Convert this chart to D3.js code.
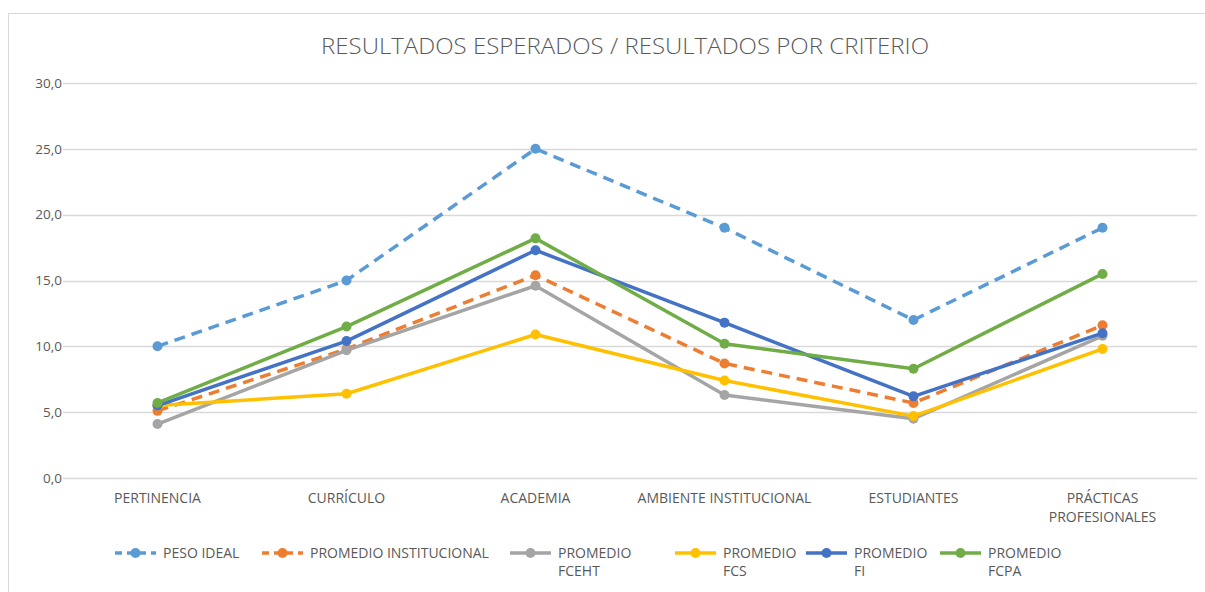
<!DOCTYPE html>
<html>
<head>
<meta charset="utf-8">
<script src="https://cdn.jsdelivr.net/npm/d3@7"></script>
<style>
  body { margin: 0; background: #fff; }
  text { font-family: "Open Sans", "DejaVu Sans", sans-serif; fill: #595959; }
</style>
</head>
<body>
<svg id="svg"></svg>
<script>
const width = 1205;
const height = 592;

const categories = ["PERTINENCIA", "CURRÍCULO", "ACADEMIA", "AMBIENTE INSTITUCIONAL", "ESTUDIANTES", "PRÁCTICAS PROFESIONALES"];
const yTicks = [0, 5, 10, 15, 20, 25, 30];

const pesoIdeal = [10, 15, 25, 19, 12, 19];
const promInstitucional = [5.1, 9.8, 15.4, 8.7, 5.7, 11.6];
const promFCEHT = [4.1, 9.7, 14.6, 6.3, 4.5, 10.8];
const promFCS = [5.5, 6.4, 10.9, 7.4, 4.7, 9.8];
const promFI = [5.5, 10.4, 17.3, 11.8, 6.2, 11.0];
const promFCPA = [5.7, 11.5, 18.2, 10.2, 8.3, 15.5];

const series = [
    { name: ["PESO IDEAL"], values: pesoIdeal, color: "#5B9BD5", dashed: true },
    { name: ["PROMEDIO INSTITUCIONAL"], values: promInstitucional, color: "#ED7D31", dashed: true },
    { name: ["PROMEDIO", "FCEHT"], values: promFCEHT, color: "#A5A5A5", dashed: false },
    { name: ["PROMEDIO", "FCS"], values: promFCS, color: "#FFC000", dashed: false },
    { name: ["PROMEDIO", "FI"], values: promFI, color: "#4472C4", dashed: false },
    { name: ["PROMEDIO", "FCPA"], values: promFCPA, color: "#70AD47", dashed: false }
];

const margin = { top: 83, right: 8, bottom: 114, left: 63 };

let svg = d3.select("#svg")
    .attr("width", width)
    .attr("height", height);

// chart frame
svg.append("rect")
    .attr("x", 8.5).attr("y", 13.5)
    .attr("width", width + 10).attr("height", height + 10)
    .attr("fill", "#fff")
    .attr("stroke", "#D9D9D9");

let xScale = d3.scaleBand()
    .domain(categories)
    .range([margin.left, width - margin.right]);

let yScale = d3.scaleLinear()
    .domain([0, 30])
    .range([height - margin.bottom, margin.top]);

// gridlines + y labels
svg.append("g")
    .selectAll("line")
    .data(yTicks)
    .enter()
    .append("line")
        .attr("x1", margin.left)
        .attr("x2", width - margin.right)
        .attr("y1", d => Math.round(yScale(d)) + 0.5)
        .attr("y2", d => Math.round(yScale(d)) + 0.5)
        .attr("stroke", "#D9D9D9")
        .attr("stroke-width", 1.3);

svg.append("g")
    .selectAll("text")
    .data(yTicks)
    .enter()
    .append("text")
        .attr("x", 62)
        .attr("y", d => yScale(d))
        .attr("dy", "0.35em")
        .attr("text-anchor", "end")
        .attr("font-size", "13.5px")
        .text(d => d3.format(".1f")(d).replace(".", ","));

// category labels
const catLines = { "PRÁCTICAS PROFESIONALES": ["PRÁCTICAS", "PROFESIONALES"] };
svg.append("g")
    .selectAll("text")
    .data(categories)
    .enter()
    .append("text")
        .attr("x", d => xScale(d) + xScale.bandwidth() / 2)
        .attr("y", 503)
        .attr("text-anchor", "middle")
        .attr("font-size", "14px")
        .each(function (d) {
            const lines = catLines[d] || [d];
            d3.select(this).selectAll("tspan")
                .data(lines)
                .enter()
                .append("tspan")
                    .attr("x", xScale(d) + xScale.bandwidth() / 2)
                    .attr("dy", (l, i) => i === 0 ? 0 : 19)
                    .text(l => l);
        });

const line = d3.line()
    .x((d, i) => xScale(categories[i]) + xScale.bandwidth() / 2)
    .y(d => yScale(d));

series.forEach(s => {
    const g = svg.append("g");
    g.append("path")
        .datum(s.values)
        .attr("fill", "none")
        .attr("stroke", s.color)
        .attr("stroke-width", 3.5)
        .attr("stroke-linejoin", "round")
        .attr("stroke-dasharray", s.dashed ? "11,7" : null)
        .attr("d", line);
    g.selectAll("circle")
        .data(s.values)
        .enter()
        .append("circle")
            .attr("cx", (d, i) => xScale(categories[i]) + xScale.bandwidth() / 2)
            .attr("cy", d => yScale(d))
            .attr("r", 5)
            .attr("fill", s.color);
});

// legend
const legendX = [115, 262, 510, 675, 806, 940];
const legend = svg.append("g");
series.forEach((s, i) => {
    const lx = legendX[i];
    const ly = 553;
    legend.append("line")
        .attr("x1", lx).attr("x2", lx + 41)
        .attr("y1", ly).attr("y2", ly)
        .attr("stroke", s.color)
        .attr("stroke-width", 3.5)
        .attr("stroke-dasharray", s.dashed ? "7,5" : null);
    legend.append("circle")
        .attr("cx", lx + 20.5).attr("cy", ly)
        .attr("r", 5)
        .attr("fill", s.color);
    const t = legend.append("text")
        .attr("x", lx + 48)
        .attr("y", ly)
        .attr("font-size", "14px");
    t.selectAll("tspan")
        .data(s.name)
        .enter()
        .append("tspan")
            .attr("x", lx + 48)
            .attr("dy", (l, j) => j === 0 ? "0.35em" : 18)
            .text(l => l);
});

// title
svg.append("text")
    .text("RESULTADOS ESPERADOS / RESULTADOS POR CRITERIO")
    .attr("x", 625)
    .attr("y", 54)
    .attr("text-anchor", "middle")
    .attr("font-size", "22px")
    .attr("font-weight", 300)
    .attr("textLength", 608)
    .attr("lengthAdjust", "spacingAndGlyphs");

svg.node();
</script>
</body>
</html>
